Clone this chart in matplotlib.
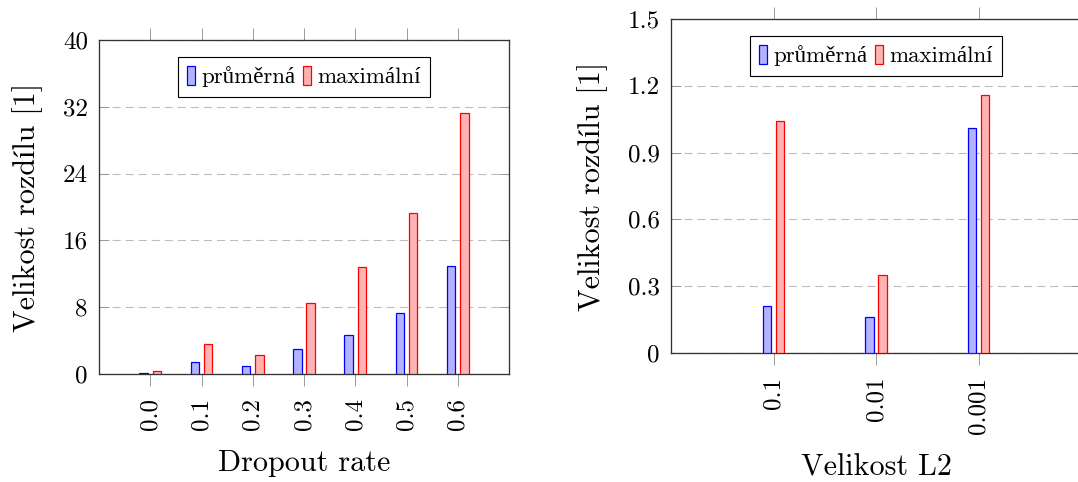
import matplotlib
matplotlib.use("Agg")
import matplotlib.pyplot as plt
import numpy as np

# ---- data ----
dropout_labels = ["0.0", "0.1", "0.2", "0.3", "0.4", "0.5", "0.6"]
dropout_avg = [0.15, 1.45, 1.0, 3.05, 4.7, 7.35, 12.95]
dropout_max = [0.3, 3.65, 2.3, 8.5, 12.8, 19.3, 31.3]
dropout_yticks = [0, 8, 16, 24, 32, 40]
dropout_yticklabels = ["0", "8", "16", "24", "32", "40"]

l2_labels = ["0.1", "0.01", "0.001"]
l2_avg = [0.21, 0.16, 1.01]
l2_max = [1.04, 0.35, 1.16]
l2_yticks = [0, 0.3, 0.6, 0.9, 1.2, 1.5]
l2_yticklabels = ["0", "0.3", "0.6", "0.9", "1.2", "1.5"]

series_names = ["průměrná", "maximální"]
ylabel_text = "Velikost rozdílu [1]"
xlabel_left = "Dropout rate"
xlabel_right = "Velikost L2"

# ---- style ----
plt.rcParams['font.family'] = ['cmr10', 'Liberation Serif', 'DejaVu Serif']
plt.rcParams['mathtext.fontset'] = 'cm'
plt.rcParams['axes.unicode_minus'] = False
plt.rcParams['lines.scale_dashes'] = False

W, H = 1078, 482
fig = plt.figure(figsize=(W / 100, H / 100), dpi=100)
ax1 = fig.add_axes([99 / W, 1 - 374 / H, 410 / W, 334 / H])
ax2 = fig.add_axes([671 / W, 1 - 353 / H, 410 / W, 334 / H])

blue_face, blue_edge = "#b3b3ff", "#0000ff"
red_face, red_edge = "#ffb3b3", "#ff0000"
tick_grey = "#999999"


def draw(ax, labels, avg, mx, yticks, yticklabels, ylim, bar_w, off, xlabel):
    x = np.arange(len(labels))
    ax.set_axisbelow(True)
    ax.yaxis.grid(True, linestyle=(0, (5.8, 3.6)), color="#bdbdbd", linewidth=0.8)
    b1 = ax.bar(x - off, avg, width=bar_w, color=blue_face, edgecolor=blue_edge,
                linewidth=0.9, zorder=3, label=series_names[0])
    b2 = ax.bar(x + off, mx, width=bar_w, color=red_face, edgecolor=red_edge,
                linewidth=0.9, zorder=3, label=series_names[1])
    ax.set_xlim(-1, len(labels))
    ax.set_ylim(*ylim)
    ax.set_xticks(x)
    ax.set_xticklabels(labels, rotation=90, va="top", ha="center")
    ax.set_yticks(yticks)
    ax.set_yticklabels(yticklabels)
    ax.tick_params(axis="x", direction="out", length=8.6, width=0.7, color=tick_grey,
                   top=True, bottom=True, pad=8.5, labelsize=18)
    ax.tick_params(axis="y", direction="in", length=7, width=0.7, color=tick_grey,
                   left=True, right=True, pad=8, labelsize=18)
    for s in ax.spines.values():
        s.set_color("#333333")
        s.set_linewidth(0.95)
    ax.set_xlabel(xlabel, fontsize=21.7, labelpad=14)
    ax.set_ylabel(ylabel_text, fontsize=21.7, labelpad=14)
    leg = ax.legend(handles=[b1, b2], loc="upper center", ncol=2,
                    bbox_to_anchor=(0.5, 1 - 17 / 334), borderaxespad=0,
                    fontsize=16.5, handlelength=0.36, handleheight=0.88,
                    handletextpad=0.28, columnspacing=0.33, borderpad=0.4,
                    fancybox=False, framealpha=1, edgecolor="black")
    leg.get_frame().set_linewidth(0.8)
    return ax


draw(ax1, dropout_labels, dropout_avg, dropout_max, dropout_yticks,
     dropout_yticklabels, (0, 40), 0.165, 0.128, xlabel_left)
draw(ax2, l2_labels, l2_avg, l2_max, l2_yticks, l2_yticklabels, (0, 1.5),
     0.083, 0.064, xlabel_right)

fig.savefig("out.png", dpi=100)
